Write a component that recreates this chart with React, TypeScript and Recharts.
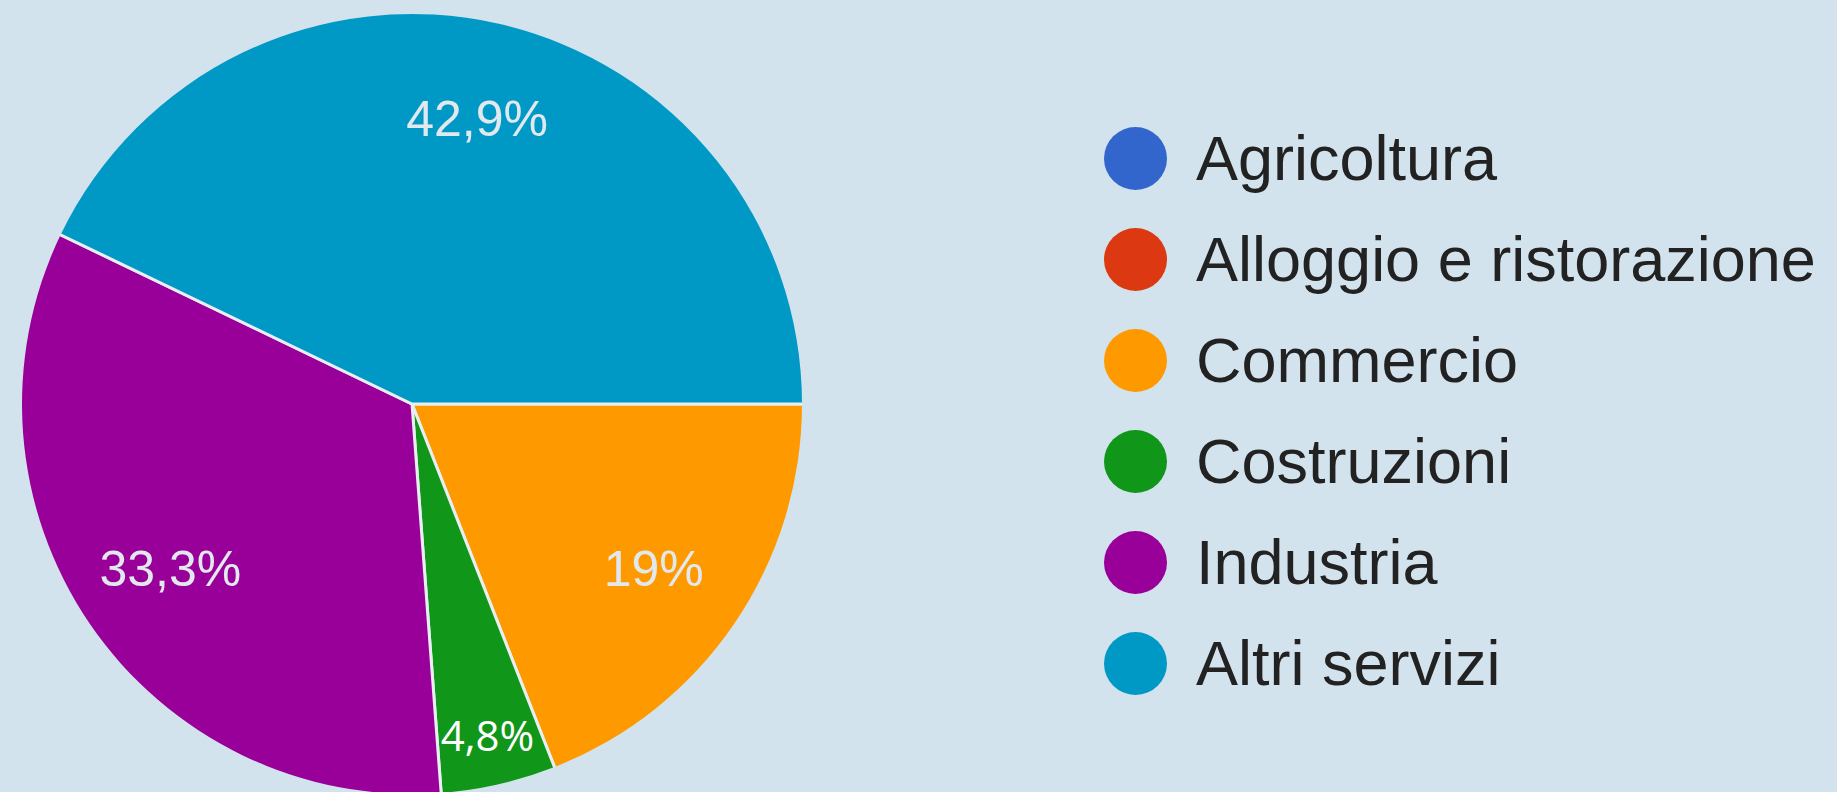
import React from 'react';
import { PieChart, Pie, Cell } from 'recharts';

const SECTORS = ['Agricoltura', 'Alloggio e ristorazione', 'Commercio', 'Costruzioni', 'Industria', 'Altri servizi'];
const RESPONSES = [0, 0, 4, 1, 7, 9];
const SECTOR_COLORS = ['#3366cc', '#dc3912', '#ff9900', '#109618', '#990099', '#0099c6'];

const BG = '#d3e3ed';
const RAD = Math.PI / 180;

const data = SECTORS.map((name, i) => ({ name, value: RESPONSES[i] }));

const fmtPct = (p: number) => {
  const s = (Math.round(p * 1000) / 10).toFixed(1).replace('.', ',');
  return s.endsWith(',0') ? s.slice(0, -2) + '%' : s + '%';
};

const renderLabel = (props: any) => {
  const { cx, cy, midAngle, percent, value } = props;
  if (!value) return null;
  const small = percent < 0.1;
  // radius measured against the visible pie edge (390)
  const r = 390 * (small ? 0.87 : 0.75);
  const x = cx + r * Math.cos(-midAngle * RAD);
  const y = cy + r * Math.sin(-midAngle * RAD);
  return (
    <text
      x={x}
      y={y}
      textAnchor="middle"
      dominantBaseline="central"
      fill={small ? '#ffffff' : '#e1e8ee'}
      fontSize={small ? 42 : 50}
      fontFamily={small ? '"Open Sans", sans-serif' : '"Liberation Sans", Arial, sans-serif'}
    >
      {fmtPct(percent)}
    </text>
  );
};

const SectorLegend = () => (
  <div style={{ position: 'absolute', left: 1104, top: 108, fontFamily: '"Liberation Sans", Arial, sans-serif' }}>
    {SECTORS.map((name, i) => (
      <div key={name} style={{ display: 'flex', alignItems: 'center', height: 101 }}>
        <span style={{ width: 63, height: 63, borderRadius: '50%', background: SECTOR_COLORS[i], display: 'inline-block' }} />
        <span style={{ marginLeft: 29, fontSize: 63, lineHeight: '101px', color: '#222', whiteSpace: 'nowrap' }}>{name}</span>
      </div>
    ))}
  </div>
);

export default function App() {
  return (
    <div style={{ position: 'fixed', left: 0, top: 0, width: 1837, height: 792, background: BG, overflow: 'hidden' }}>
      <PieChart width={1837} height={792} margin={{ top: 0, right: 0, bottom: 0, left: 0 }}>
        <Pie
          data={data}
          dataKey="value"
          nameKey="name"
          cx={412}
          cy={404}
          outerRadius={393}
          startAngle={0}
          endAngle={-360}
          stroke="#e8eef2"
          strokeWidth={3}
          label={renderLabel}
          labelLine={false}
          isAnimationActive={false}
        >
          {data.map((d, i) => (
            <Cell key={d.name} fill={SECTOR_COLORS[i]} />
          ))}
        </Pie>
        {/* background ring hides the stroke along the outer rim */}
        <Pie
          data={data}
          dataKey="value"
          cx={412}
          cy={404}
          innerRadius={390}
          outerRadius={400}
          startAngle={0}
          endAngle={-360}
          stroke="none"
          isAnimationActive={false}
          legendType="none"
        >
          {data.map((d) => (
            <Cell key={d.name} fill={BG} />
          ))}
        </Pie>
      </PieChart>
      <SectorLegend />
    </div>
  );
}
